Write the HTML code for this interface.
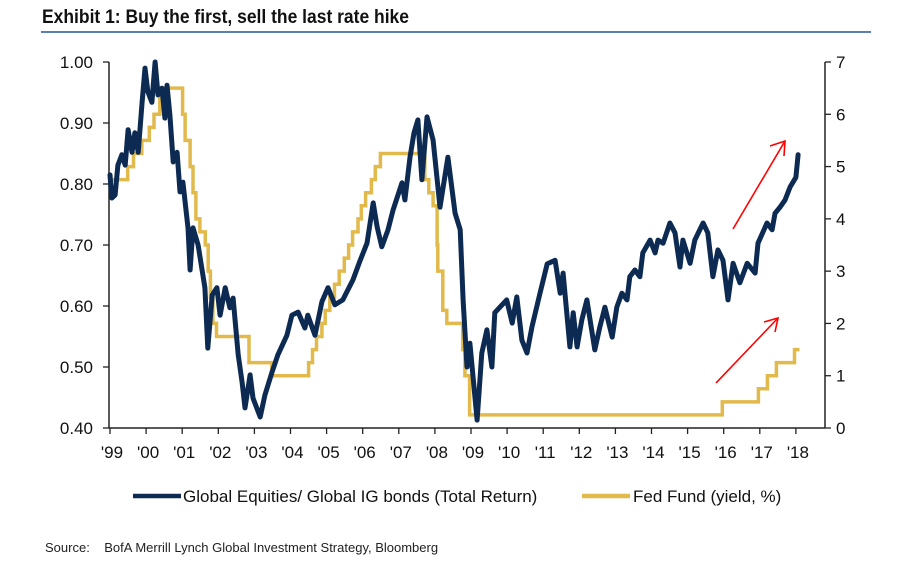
<!DOCTYPE html>
<html><head><meta charset="utf-8">
<style>
html,body{margin:0;padding:0;background:#fff;}
svg{display:block;font-family:"Liberation Sans",Arial,sans-serif;}
</style></head>
<body>
<svg id="chart" width="897" height="584" viewBox="0 0 897 584" xmlns="http://www.w3.org/2000/svg">
<text x="42" y="23" font-size="19" font-weight="bold" fill="#111" textLength="367" lengthAdjust="spacingAndGlyphs">Exhibit 1: Buy the first, sell the last rate hike</text>
<line x1="41" y1="32" x2="871" y2="32" stroke="#5b7fb3" stroke-width="2"/>
<g id="axes"></g>
<g id="series"></g>
<g stroke="#ff0000" stroke-width="1.6" fill="none">
<line x1="733" y1="229" x2="785" y2="141"/><polyline points="770,146 785,141 784,156"/>
<line x1="716" y1="383" x2="778" y2="318"/><polyline points="764,322 778,318 775,332"/>
</g>
<g>
<line x1="133" y1="496" x2="181" y2="496" stroke="#0d2b52" stroke-width="4.5"/>
<text x="183" y="502" font-size="17" fill="#111">Global Equities/ Global IG bonds (Total Return)</text>
<line x1="582" y1="496" x2="630" y2="496" stroke="#e2b94b" stroke-width="4.5"/>
<text x="633" y="502" font-size="17" fill="#111">Fed Fund (yield, %)</text>
</g>
<text x="45" y="552" font-size="13" fill="#222">Source:&#160;&#160;&#160;&#160;BofA Merrill Lynch Global Investment Strategy, Bloomberg</text>
</svg>
<script>
const eqDates=[1999.0,1999.05,1999.14,1999.22,1999.33,1999.42,1999.50,1999.61,1999.69,1999.78,1999.89,1999.97,2000.05,2000.16,2000.25,2000.33,2000.44,2000.52,2000.58,2000.66,2000.75,2000.86,2000.94,2001.02,2001.16,2001.22,2001.30,2001.44,2001.63,2001.71,2001.83,2001.96,2002.05,2002.19,2002.32,2002.41,2002.55,2002.66,2002.74,2002.88,2002.96,2003.16,2003.29,2003.49,2003.65,2003.90,2004.04,2004.21,2004.40,2004.48,2004.68,2004.87,2005.04,2005.23,2005.45,2005.73,2005.93,2006.12,2006.29,2006.40,2006.53,2006.70,2006.84,2007.09,2007.17,2007.31,2007.42,2007.53,2007.64,2007.78,2007.95,2008.14,2008.36,2008.56,2008.70,2008.78,2008.89,2008.97,2009.17,2009.30,2009.44,2009.58,2009.66,2009.80,2009.99,2010.14,2010.27,2010.41,2010.55,2010.69,2010.91,2011.11,2011.33,2011.47,2011.55,2011.74,2011.83,2011.94,2012.07,2012.21,2012.43,2012.57,2012.71,2012.91,2013.04,2013.18,2013.32,2013.40,2013.54,2013.68,2013.76,2013.96,2014.10,2014.18,2014.32,2014.51,2014.65,2014.79,2014.87,2015.07,2015.20,2015.43,2015.56,2015.70,2015.84,2015.98,2016.12,2016.26,2016.45,2016.65,2016.87,2016.95,2017.20,2017.34,2017.42,2017.56,2017.70,2017.84,2018.00,2018.06];
const eqValues=[0.815,0.777,0.782,0.831,0.848,0.831,0.889,0.852,0.884,0.852,0.934,0.990,0.951,0.934,1.000,0.946,0.957,0.908,0.962,0.913,0.836,0.852,0.787,0.803,0.728,0.659,0.728,0.700,0.630,0.531,0.618,0.630,0.585,0.630,0.597,0.613,0.520,0.475,0.433,0.487,0.449,0.418,0.454,0.492,0.520,0.552,0.585,0.590,0.564,0.585,0.552,0.607,0.630,0.602,0.610,0.643,0.675,0.703,0.769,0.730,0.697,0.725,0.757,0.802,0.774,0.844,0.884,0.905,0.807,0.910,0.872,0.762,0.844,0.752,0.725,0.610,0.500,0.539,0.413,0.523,0.561,0.500,0.589,0.598,0.610,0.572,0.615,0.544,0.523,0.566,0.621,0.669,0.675,0.621,0.654,0.533,0.589,0.533,0.577,0.610,0.528,0.566,0.598,0.549,0.598,0.621,0.610,0.648,0.659,0.648,0.687,0.708,0.687,0.708,0.703,0.736,0.720,0.664,0.708,0.670,0.708,0.736,0.720,0.648,0.692,0.675,0.610,0.670,0.638,0.670,0.654,0.703,0.736,0.725,0.752,0.762,0.774,0.795,0.811,0.848];
const fedDates=[1999.0,1999.49,1999.65,1999.88,2000.09,2000.22,2000.38,2001.01,2001.08,2001.22,2001.30,2001.38,2001.49,2001.64,2001.72,2001.78,2001.85,2001.95,2002.85,2003.48,2004.50,2004.61,2004.72,2004.87,2004.96,2005.09,2005.22,2005.35,2005.49,2005.61,2005.72,2005.87,2005.96,2006.08,2006.24,2006.35,2006.49,2007.72,2007.83,2007.95,2008.06,2008.08,2008.22,2008.33,2008.77,2008.83,2008.96,2015.96,2016.96,2017.21,2017.46,2017.96,2018.10];
const fedRates=[4.75,5.0,5.25,5.5,5.75,6.0,6.5,6.0,5.5,5.0,4.5,4.0,3.75,3.5,3.0,2.5,2.0,1.75,1.25,1.0,1.25,1.5,1.75,2.0,2.25,2.5,2.75,3.0,3.25,3.5,3.75,4.0,4.25,4.5,4.75,5.0,5.25,4.75,4.5,4.25,3.5,3.0,2.25,2.0,1.5,1.0,0.25,0.5,0.75,1.0,1.25,1.5,1.5];
const yearLabels=["'99","'00","'01","'02","'03","'04","'05","'06","'07","'08","'09","'10","'11","'12","'13","'14","'15","'16","'17","'18"];
const leftTicks=[1.00,0.90,0.80,0.70,0.60,0.50,0.40];
const rightTicks=[7,6,5,4,3,2,1,0];

const NS="http://www.w3.org/2000/svg";
const X0=110, XW=36.1, YT=62, YB=428, XL=109, XR=825;
const xScale=t=>X0+(t-1999)*XW;
const yLeft=v=>YB-(v-0.4)/0.6*(YB-YT);
const yRight=v=>YB-v/7*(YB-YT);
function mk(tag,attrs,parent){const e=document.createElementNS(NS,tag);for(const k in attrs)e.setAttribute(k,attrs[k]);parent.appendChild(e);return e;}
const axes=document.getElementById('axes'), series=document.getElementById('series');

const la=mk('line',{x1:XL,y1:YT,x2:XL,y2:YB,stroke:'#222','stroke-width':1.5},axes);


const ra=mk('line',{x1:XR,y1:YT,x2:XR,y2:YB,stroke:'#222','stroke-width':1.5},axes);


const xa=mk('line',{x1:XL,y1:YB,x2:XR,y2:YB,stroke:'#222','stroke-width':1.5},axes);



leftTicks.forEach(v=>{
  const y=yLeft(v);
  mk('line',{x1:XL-6,y1:y,x2:XL,y2:y,stroke:'#222','stroke-width':1.3},axes);
  const t=mk('text',{x:93,y:y+6,'text-anchor':'end','font-size':17,fill:'#111'},axes);
  t.textContent=v.toFixed(2);
  
  
});
rightTicks.forEach(v=>{
  const y=yRight(v);
  mk('line',{x1:XR,y1:y,x2:XR+6,y2:y,stroke:'#222','stroke-width':1.3},axes);
  const t=mk('text',{x:836,y:y+6,'font-size':17,fill:'#111'},axes);
  t.textContent=String(v);
  
  
});
yearLabels.forEach((lab,i)=>{
  const x=xScale(1999+i);
  mk('line',{x1:x,y1:YB,x2:x,y2:YB+6,stroke:'#222','stroke-width':1.3},axes);
  const t=mk('text',{x:x+2,y:458,'text-anchor':'middle','font-size':17,fill:'#111'},axes);
  t.textContent=lab;
  
  
});

let fp='';
fedDates.forEach((d,i)=>{
  const x=xScale(d).toFixed(1), y=yRight(fedRates[i]).toFixed(1);
  if(i===0) fp+='M'+x+','+y;
  else fp+=' H'+x+' V'+y;
});
const fed=mk('path',{d:fp,fill:'none',stroke:'#e2b94b','stroke-width':3.5,'stroke-linejoin':'miter'},series);



let ep='';
eqDates.forEach((d,i)=>{ep+=(i?' L':'M')+xScale(d).toFixed(1)+','+yLeft(eqValues[i]).toFixed(1);});
const eq=mk('path',{d:ep,fill:'none',stroke:'#0d2b52','stroke-width':5,'stroke-linejoin':'round','stroke-linecap':'round'},series);


</script>
</body></html>
